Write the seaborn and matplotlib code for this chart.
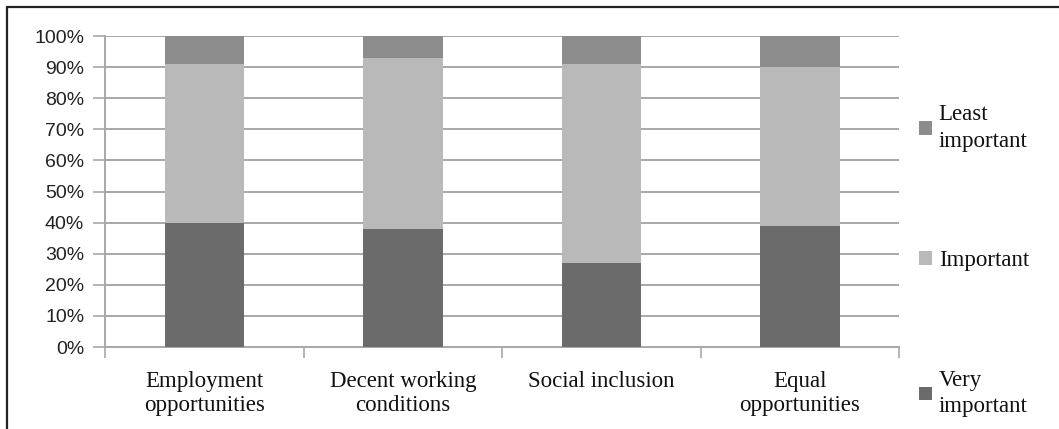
import matplotlib
matplotlib.use("Agg")
import matplotlib.pyplot as plt
from matplotlib.lines import Line2D
from matplotlib.patches import Patch
import numpy as np
import pandas as pd
import seaborn as sns

# Survey shares (%) by goal and importance rating
categories = ["Employment\nopportunities", "Decent working\nconditions",
              "Social inclusion", "Equal\nopportunities"]
very_important = [40, 38, 27, 39]
important = [51, 55, 64, 51]
least_important = [9, 7, 9, 10]
series_names = ["Very\nimportant", "Important", "Least\nimportant"]
tick_values = [0, 10, 20, 30, 40, 50, 60, 70, 80, 90, 100]
tick_labels = [f"{v}%" for v in tick_values]

colors = {"Very\nimportant": "#6b6b6b", "Important": "#b9b9b9",
          "Least\nimportant": "#8c8c8c"}
grid_color = "#a8a8a8"

sns.set_theme(style="white")
plt.rcParams["font.family"] = ["Liberation Sans", "DejaVu Sans"]

df = pd.DataFrame({
    "category": categories,
    "very": very_important,
    "important": important,
    "least": least_important,
})
# cumulative tops for stacking, tallest drawn first
df["top_least"] = df["very"] + df["important"] + df["least"]
df["top_important"] = df["very"] + df["important"]
df["top_very"] = df["very"]

fig = plt.figure(figsize=(10.59, 4.29), dpi=100)
ax = fig.add_axes([0.0992, 0.191, 0.849 - 0.0992, 0.916 - 0.191])

for col, name in [("top_least", "Least\nimportant"),
                  ("top_important", "Important"),
                  ("top_very", "Very\nimportant")]:
    sns.barplot(data=df, x="category", y=col, color=colors[name],
                width=0.4, saturation=1, linewidth=0, ax=ax, zorder=3)

ax.set_xlim(-0.5, len(categories) - 0.5)
ax.set_ylim(0, 100)
ax.set_xlabel("")
ax.set_ylabel("")

# horizontal grid
ax.set_yticks(tick_values)
ax.set_yticklabels(tick_labels, fontsize=14, color="#222222")
ax.yaxis.grid(True, color=grid_color, linewidth=1.4, zorder=0)
ax.set_axisbelow(True)
ax.tick_params(axis="y", length=9, width=1.2, color=grid_color, pad=6, left=True)

# category labels, with tick marks on the category boundaries
ax.set_xticks(range(len(categories)))
ax.set_xticklabels(categories, fontsize=16.5, family=["Liberation Serif"],
                   color="#111111", linespacing=1.2)
ax.tick_params(axis="x", length=0, pad=17)
ax.set_xticks(np.arange(-0.5, len(categories), 1.0), minor=True)
ax.tick_params(axis="x", which="minor", length=8, width=1.2, color=grid_color,
               bottom=True)

for side in ["top", "right"]:
    ax.spines[side].set_visible(False)
for side in ["left", "bottom"]:
    ax.spines[side].set_color(grid_color)
    ax.spines[side].set_linewidth(1.4)

# legend, topmost segment listed first
handles = [Patch(facecolor=colors[n], edgecolor="none") for n in reversed(series_names)]
leg = fig.legend(handles, list(reversed(series_names)), loc="center left",
                 bbox_to_anchor=(0.868, 0.392), frameon=False,
                 prop={"family": "Liberation Serif", "size": 16.5},
                 handlelength=0.55, handleheight=0.55, handletextpad=0.3,
                 labelspacing=4.3, borderpad=0, borderaxespad=0)
for t in leg.get_texts():
    t.set_linespacing(1.35)
    t.set_color("#111111")

# outer frame lines (top and left)
fig.add_artist(Line2D([0.0066, 1.0], [0.984, 0.984], color="#222222",
                      linewidth=1.6, transform=fig.transFigure))
fig.add_artist(Line2D([0.0066, 0.0066], [0.0, 0.984], color="#222222",
                      linewidth=1.6, transform=fig.transFigure))

fig.savefig("out.png", dpi=100, facecolor="white")
